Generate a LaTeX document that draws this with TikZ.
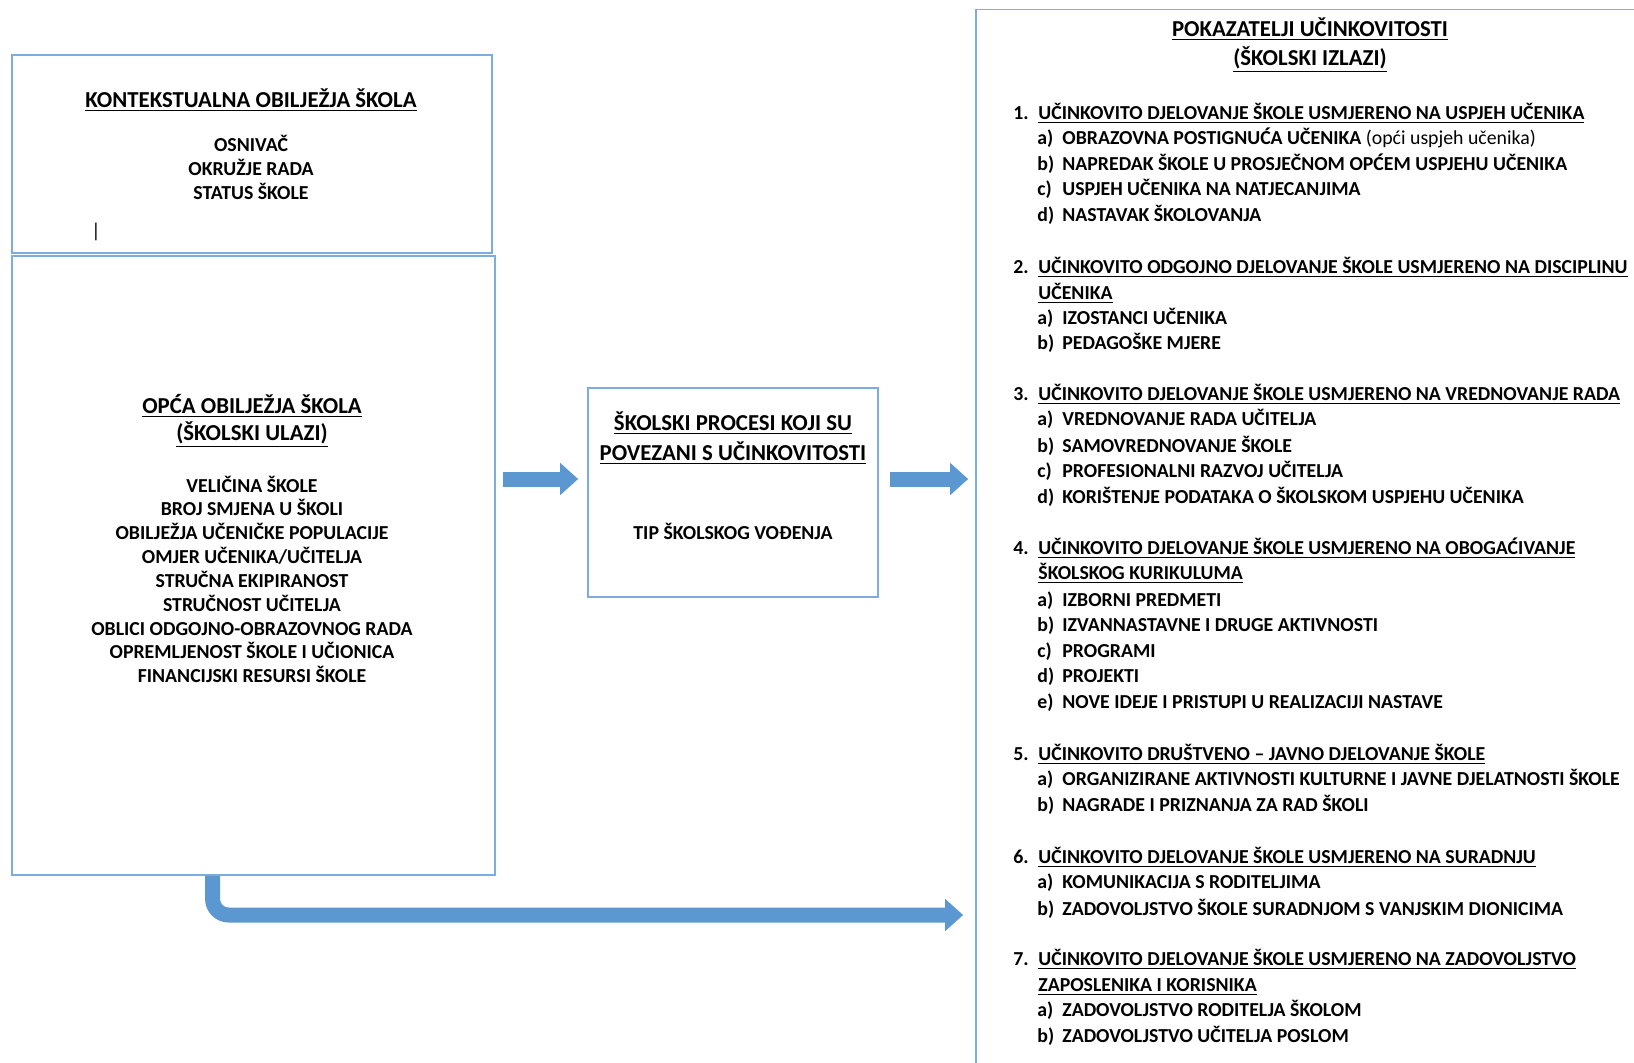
\documentclass[tikz,border=0pt]{standalone}
\usepackage{fontspec}
\setmainfont{Carlito}
\usetikzlibrary{arrows.meta}
\definecolor{plavokvir}{RGB}{125,172,222}
\definecolor{plavstrel}{RGB}{91,152,210}

\begin{document}
\begin{tikzpicture}[x=0.5pt,y=-0.5pt,
  okvir/.style={draw=plavokvir, line width=0.8pt, inner sep=0pt},
  tekst/.style={font=\bfseries\fontsize{9.9}{11}\selectfont, inner sep=0pt, anchor=base},
  naslov/.style={font=\bfseries\fontsize{11.4}{13}\selectfont, inner sep=0pt, anchor=base},
  stavka/.style={tekst, anchor=base west},
  strelica/.style={draw=plavstrel, line width=7.5pt, -{Triangle[width=15.5pt,length=9pt]}}]
\path[use as bounding box, fill=white] (0,0) rectangle (1634,1062);
\clip (0,0) rectangle (1634,1062);
% okviri
\node[okvir, minimum width=240pt, minimum height=99pt] (kontekst) at (252,154){};
\node[okvir, minimum width=241.5pt, minimum height=309.5pt] (ulazi) at (253.5,565.5){};
\node[okvir, minimum width=145pt, minimum height=104.5pt] (procesi) at (733,492.5){};
\node[okvir, minimum width=400pt, minimum height=600pt] (izlazi) at (1376,609.5){};
% kontekstualna obiljezja
\node[naslov] (kt) at (251,107){\underline{KONTEKSTUALNA OBILJEŽJA ŠKOLA}};
\node[tekst] (k1) at (251,151.4){OSNIVAČ};
\node[tekst] (k2) at (251,175.4){OKRUŽJE RADA};
\node[tekst] (k3) at (251,199.4){STATUS ŠKOLE};
\node[inner sep=0pt, anchor=base, font=\fontsize{10}{11}\selectfont] (kursor) at (96,237){|};
% skolski ulazi
\node[naslov] (ut1) at (252,413){\underline{OPĆA OBILJEŽJA ŠKOLA}};
\node[naslov] (ut2) at (252,440.5){\underline{(ŠKOLSKI ULAZI)}};
\node[tekst] (u1) at (252,492){VELIČINA ŠKOLE};
\node[tekst] (u2) at (252,515.8){BROJ SMJENA U ŠKOLI};
\node[tekst] (u3) at (252,539.7){OBILJEŽJA UČENIČKE POPULACIJE};
\node[tekst] (u4) at (252,563.5){OMJER UČENIKA/UČITELJA};
\node[tekst] (u5) at (252,587.4){STRUČNA EKIPIRANOST};
\node[tekst] (u6) at (252,611.2){STRUČNOST UČITELJA};
\node[tekst] (u7) at (252,635){OBLICI ODGOJNO-OBRAZOVNOG RADA};
\node[tekst] (u8) at (252,658.9){OPREMLJENOST ŠKOLE I UČIONICA};
\node[tekst] (u9) at (252,682.7){FINANCIJSKI RESURSI ŠKOLE};
% skolski procesi
\node[naslov] (pt1) at (733,430){\underline{ŠKOLSKI PROCESI KOJI SU}};
\node[naslov] (pt2) at (733,460){\underline{POVEZANI S UČINKOVITOSTI}};
\node[tekst] (p1) at (733,539){TIP ŠKOLSKOG VOĐENJA};
% pokazatelji ucinkovitosti
\node[naslov] (it1) at (1310,36){\underline{POKAZATELJI UČINKOVITOSTI}};
\node[naslov] (it2) at (1310,65){\underline{(ŠKOLSKI IZLAZI)}};
\node[stavka] (b1) at (1013,119){1.};
\node[stavka] (n1) at (1038,119){\underline{UČINKOVITO DJELOVANJE ŠKOLE USMJERENO NA USPJEH UČENIKA}};
\node[stavka] (b1a) at (1037,144){a)};
\node[stavka] (n1a) at (1062,144){OBRAZOVNA POSTIGNUĆA UČENIKA {\mdseries (opći uspjeh učenika)}};
\node[stavka] (b1b) at (1037,170){b)};
\node[stavka] (n1b) at (1062,170){NAPREDAK ŠKOLE U PROSJEČNOM OPĆEM USPJEHU UČENIKA};
\node[stavka] (b1c) at (1037,195){c)};
\node[stavka] (n1c) at (1062,195){USPJEH UČENIKA NA NATJECANJIMA};
\node[stavka] (b1d) at (1037,221.1){d)};
\node[stavka] (n1d) at (1062,221.1){NASTAVAK ŠKOLOVANJA};
\node[stavka] (b2) at (1013,273.2){2.};
\node[stavka] (n2) at (1038,273.2){\underline{UČINKOVITO ODGOJNO DJELOVANJE ŠKOLE USMJERENO NA DISCIPLINU}};
\node[stavka] (n2x) at (1038,299.2){\underline{UČENIKA}};
\node[stavka] (b2a) at (1037,324.2){a)};
\node[stavka] (n2a) at (1062,324.2){IZOSTANCI UČENIKA};
\node[stavka] (b2b) at (1037,349.3){b)};
\node[stavka] (n2b) at (1062,349.3){PEDAGOŠKE MJERE};
\node[stavka] (b3) at (1013,400.3){3.};
\node[stavka] (n3) at (1038,400.3){\underline{UČINKOVITO DJELOVANJE ŠKOLE USMJERENO NA VREDNOVANJE RADA}};
\node[stavka] (b3a) at (1037,425.3){a)};
\node[stavka] (n3a) at (1062,425.3){VREDNOVANJE RADA UČITELJA};
\node[stavka] (b3b) at (1037,452.4){b)};
\node[stavka] (n3b) at (1062,452.4){SAMOVREDNOVANJE ŠKOLE};
\node[stavka] (b3c) at (1037,477.4){c)};
\node[stavka] (n3c) at (1062,477.4){PROFESIONALNI RAZVOJ UČITELJA};
\node[stavka] (b3d) at (1037,503.4){d)};
\node[stavka] (n3d) at (1062,503.4){KORIŠTENJE PODATAKA O ŠKOLSKOM USPJEHU UČENIKA};
\node[stavka] (b4) at (1013,554.4){4.};
\node[stavka] (n4) at (1038,554.4){\underline{UČINKOVITO DJELOVANJE ŠKOLE USMJERENO NA OBOGAĆIVANJE}};
\node[stavka] (n4x) at (1038,579.4){\underline{ŠKOLSKOG KURIKULUMA}};
\node[stavka] (b4a) at (1037,606.4){a)};
\node[stavka] (n4a) at (1062,606.4){IZBORNI PREDMETI};
\node[stavka] (b4b) at (1037,631.4){b)};
\node[stavka] (n4b) at (1062,631.4){IZVANNASTAVNE I DRUGE AKTIVNOSTI};
\node[stavka] (b4c) at (1037,657.4){c)};
\node[stavka] (n4c) at (1062,657.4){PROGRAMI};
\node[stavka] (b4d) at (1037,682.4){d)};
\node[stavka] (n4d) at (1062,682.4){PROJEKTI};
\node[stavka] (b4e) at (1037,708.4){e)};
\node[stavka] (n4e) at (1062,708.4){NOVE IDEJE I PRISTUPI U REALIZACIJI NASTAVE};
\node[stavka] (b5) at (1013,760.4){5.};
\node[stavka] (n5) at (1038,760.4){\underline{UČINKOVITO DRUŠTVENO – JAVNO DJELOVANJE ŠKOLE}};
\node[stavka] (b5a) at (1037,785.9){a)};
\node[stavka] (n5a) at (1062,785.9){ORGANIZIRANE AKTIVNOSTI KULTURNE I JAVNE DJELATNOSTI ŠKOLE};
\node[stavka] (b5b) at (1037,811.9){b)};
\node[stavka] (n5b) at (1062,811.9){NAGRADE I PRIZNANJA ZA RAD ŠKOLI};
\node[stavka] (b6) at (1013,863){6.};
\node[stavka] (n6) at (1038,863){\underline{UČINKOVITO DJELOVANJE ŠKOLE USMJERENO NA SURADNJU}};
\node[stavka] (b6a) at (1037,888){a)};
\node[stavka] (n6a) at (1062,888){KOMUNIKACIJA S RODITELJIMA};
\node[stavka] (b6b) at (1037,915.1){b)};
\node[stavka] (n6b) at (1062,915.1){ZADOVOLJSTVO ŠKOLE SURADNJOM S VANJSKIM DIONICIMA};
\node[stavka] (b7) at (1013,965.1){7.};
\node[stavka] (n7) at (1038,965.1){\underline{UČINKOVITO DJELOVANJE ŠKOLE USMJERENO NA ZADOVOLJSTVO}};
\node[stavka] (n7x) at (1038,991.2){\underline{ZAPOSLENIKA I KORISNIKA}};
\node[stavka] (b7a) at (1037,1016.2){a)};
\node[stavka] (n7a) at (1062,1016.2){ZADOVOLJSTVO RODITELJA ŠKOLOM};
\node[stavka] (b7b) at (1037,1042.2){b)};
\node[stavka] (n7b) at (1062,1042.2){ZADOVOLJSTVO UČITELJA POSLOM};
% strelice
\coordinate (s1) at (0,479);
\coordinate (s2) at (212.6,0);
\coordinate (s3) at (0,915);
\draw[strelica, shorten <=3.5pt, shorten >=4.5pt] (ulazi.east |- s1) -- (procesi.west |- s1);
\draw[strelica, shorten <=5.5pt, shorten >=3.5pt] (procesi.east |- s1) -- (izlazi.west |- s1);
\draw[strelica, rounded corners=8pt, shorten >=6pt] (ulazi.south -| s2) |- (izlazi.west |- s3);
\end{tikzpicture}
\end{document}
